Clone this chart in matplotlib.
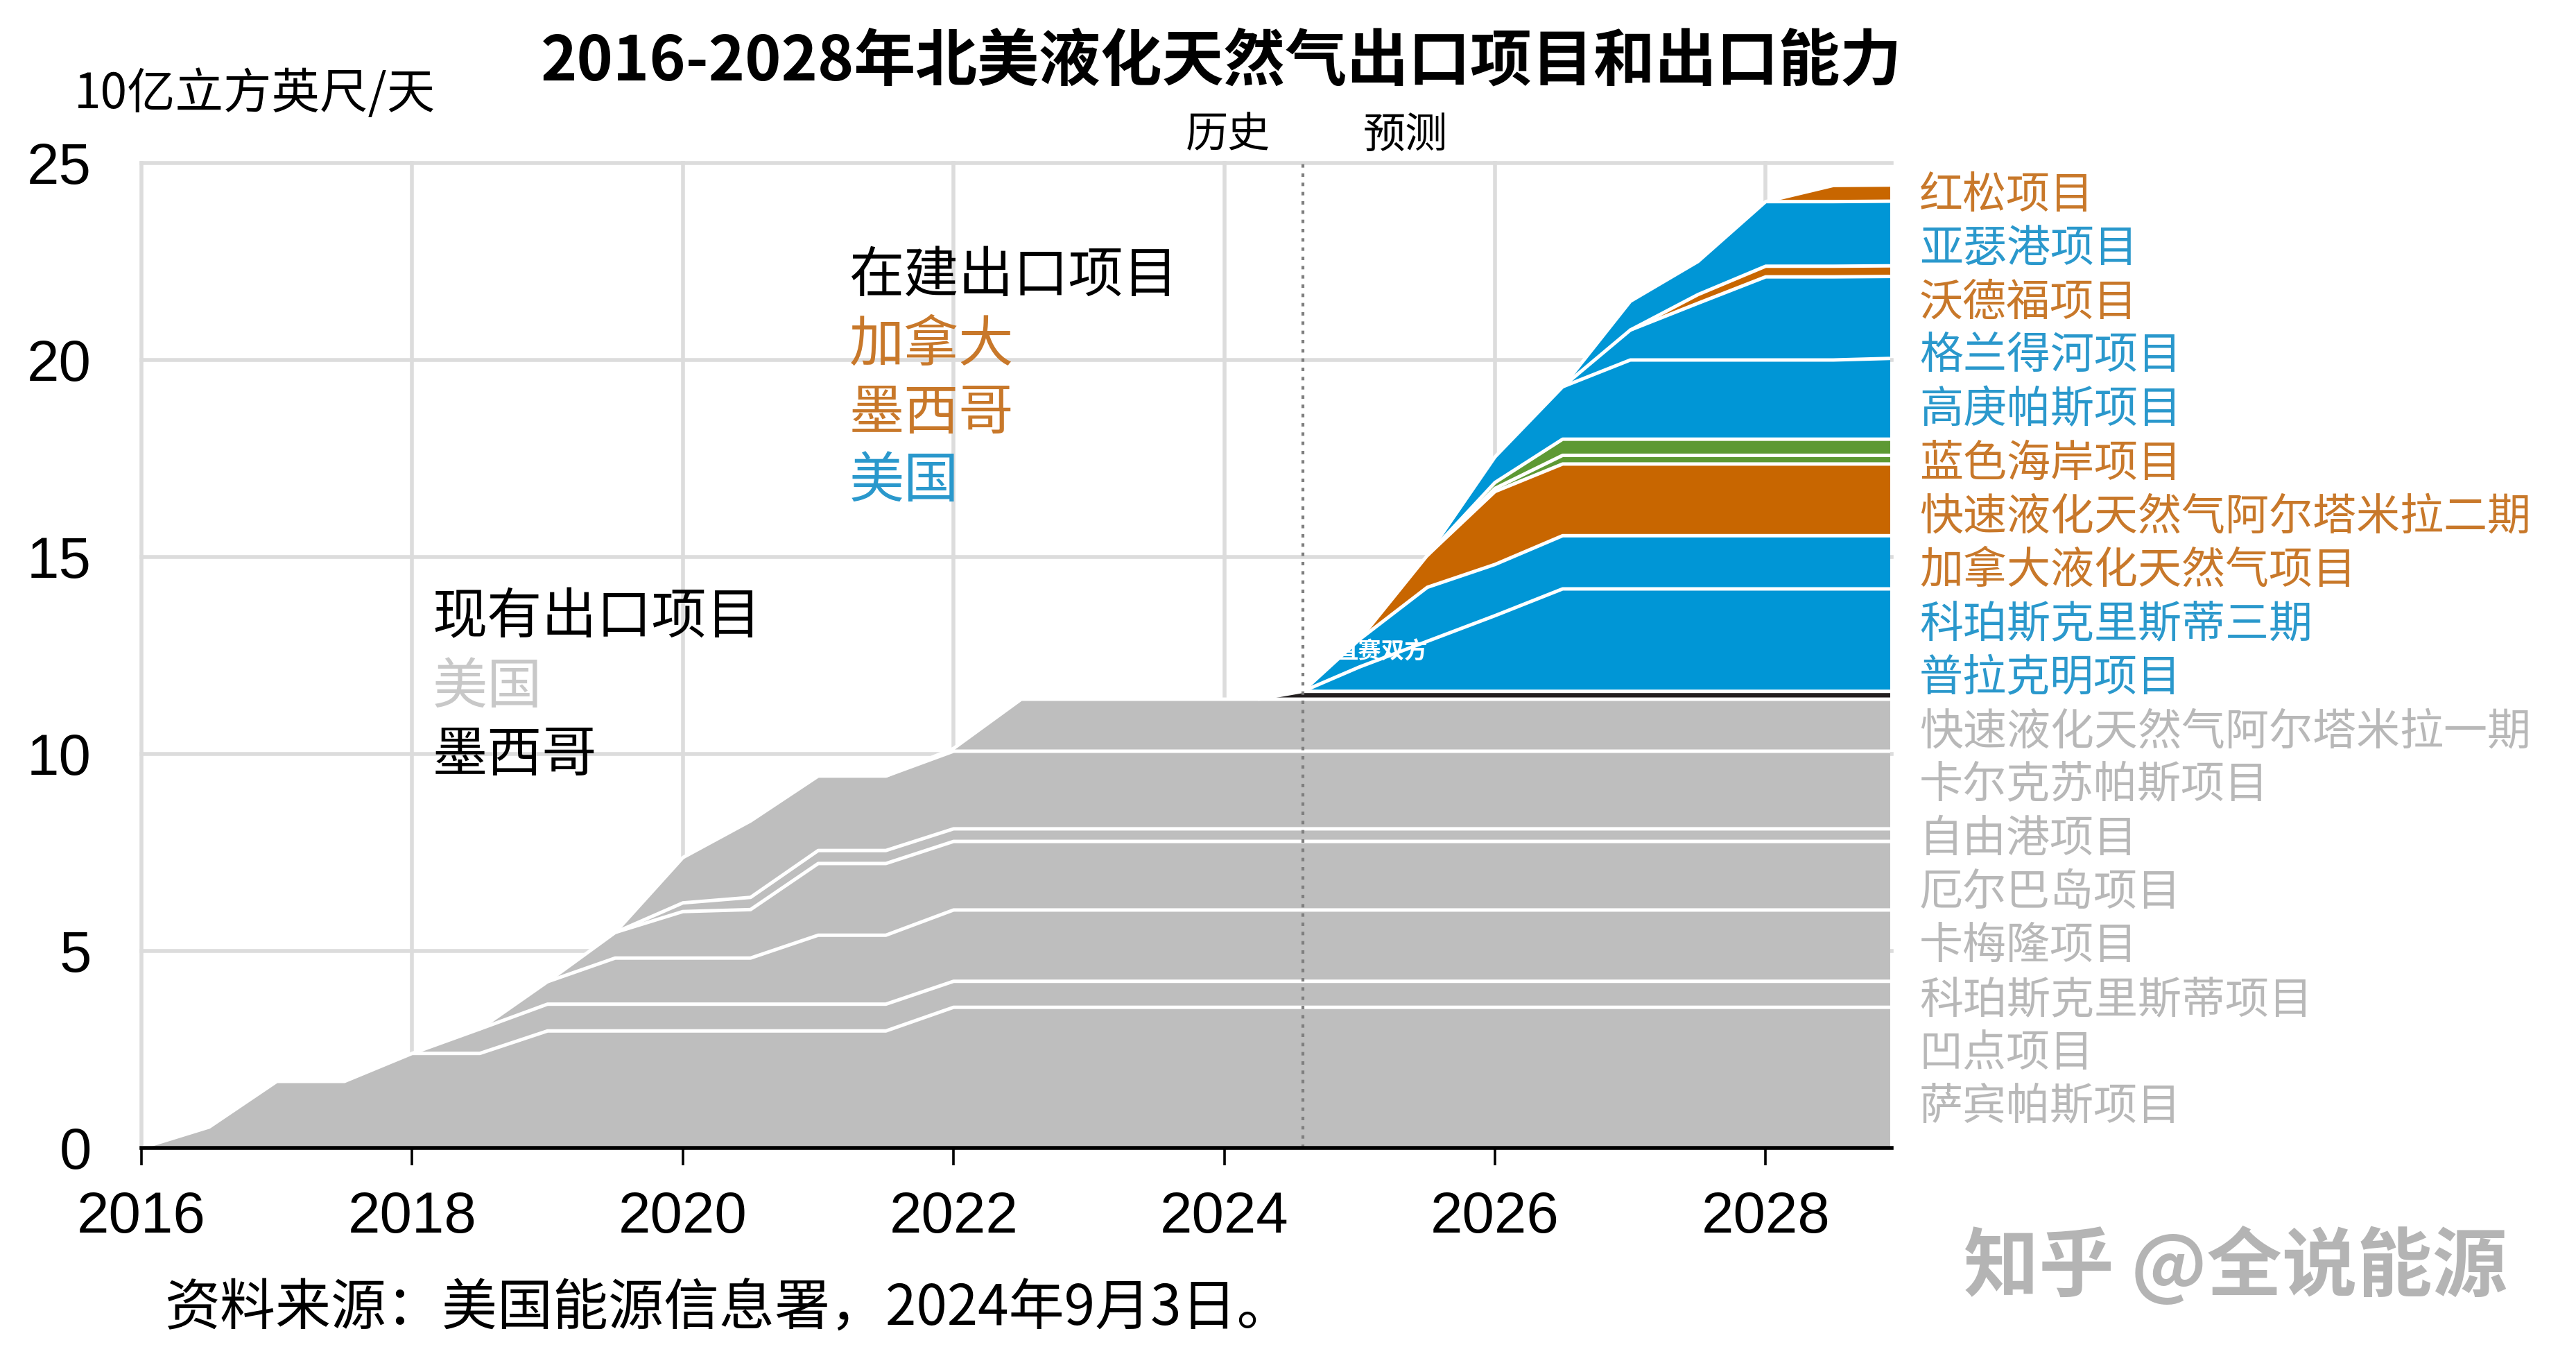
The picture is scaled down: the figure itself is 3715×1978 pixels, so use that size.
import numpy as np
import matplotlib
matplotlib.use("Agg")
import matplotlib.pyplot as plt

plt.rcParams["font.family"] = ["Noto Sans CJK SC", "DejaVu Sans"]

# ---- datos (10亿立方英尺/天) ----
years_hist = [2016.0, 2016.5, 2017.0, 2017.5, 2018.0, 2018.5, 2019.0, 2019.5, 2020.0,
              2020.5, 2021.0, 2021.5, 2022.0, 2022.5, 2024.25, 2024.58, 2028.92]
sabine_pass = [0, 0.53, 1.69, 1.69, 2.40, 2.40, 2.97, 2.97, 2.97, 2.97, 2.97, 2.97, 3.57, 3.57, 3.57, 3.57, 3.57]
cove_point = [0, 0, 0, 0, 0, 0.62, 0.68, 0.68, 0.68, 0.68, 0.68, 0.68, 0.66, 0.66, 0.66, 0.66, 0.66]
corpus_christi = [0, 0, 0, 0, 0, 0, 0.57, 1.17, 1.17, 1.17, 1.75, 1.75, 1.81, 1.81, 1.81, 1.81, 1.81]
cameron = [0, 0, 0, 0, 0, 0, 0, 0.65, 1.18, 1.23, 1.82, 1.82, 1.74, 1.74, 1.74, 1.74, 1.74]
elba_island = [0, 0, 0, 0, 0, 0, 0, 0, 0.22, 0.31, 0.33, 0.33, 0.32, 0.32, 0.32, 0.32, 0.32]
freeport = [0, 0, 0, 0, 0, 0, 0, 0, 1.15, 1.94, 1.89, 1.89, 1.97, 1.97, 1.97, 1.97, 1.97]
calcasieu_pass = [0, 0, 0, 0, 0, 0, 0, 0, 0, 0, 0, 0, 0.07, 1.32, 1.32, 1.32, 1.32]
altamira_1 = [0, 0, 0, 0, 0, 0, 0, 0, 0, 0, 0, 0, 0, 0, 0, 0.20, 0.20]

years_fcst = [2024.58, 2025.0, 2025.5, 2026.0, 2026.5, 2027.0, 2027.5, 2028.0, 2028.5, 2028.92]
plaquemines = [0, 0.62, 1.27, 1.92, 2.60, 2.60, 2.60, 2.60, 2.60, 2.60]
corpus_christi_3 = [0, 0.70, 1.37, 1.30, 1.35, 1.35, 1.35, 1.35, 1.35, 1.35]
lng_canada = [0, 0, 0.81, 1.85, 1.82, 1.82, 1.82, 1.82, 1.82, 1.82]
altamira_2 = [0, 0, 0, 0.08, 0.22, 0.22, 0.22, 0.22, 0.22, 0.22]
costa_azul = [0, 0, 0, 0.15, 0.41, 0.41, 0.41, 0.41, 0.41, 0.41]
golden_pass = [0, 0, 0, 0.65, 1.33, 2.01, 2.01, 2.01, 2.01, 2.05]
rio_grande = [0, 0, 0, 0, 0, 0.76, 1.44, 2.11, 2.11, 2.08]
woodfibre = [0, 0, 0, 0, 0, 0, 0.22, 0.27, 0.27, 0.27]
port_arthur = [0, 0, 0, 0, 0, 0.73, 0.84, 1.64, 1.64, 1.64]
red_pine = [0, 0, 0, 0, 0, 0, 0, 0, 0.41, 0.41]

BLUE, ORANGE, GREEN, GRAY, BLACK = "#0096d6", "#c86600", "#5d9934", "#bebebe", "#231f20"
L_BLUE, L_ORANGE, L_GRAY = "#2a98cc", "#c8782a", "#b8b8b8"

labels = ["红松项目", "亚瑟港项目", "沃德福项目", "格兰得河项目", "高庚帕斯项目", "蓝色海岸项目",
          "快速液化天然气阿尔塔米拉二期", "加拿大液化天然气项目", "科珀斯克里斯蒂三期", "普拉克明项目",
          "快速液化天然气阿尔塔米拉一期", "卡尔克苏帕斯项目", "自由港项目", "厄尔巴岛项目",
          "卡梅隆项目", "科珀斯克里斯蒂项目", "凹点项目", "萨宾帕斯项目"]
label_colors = [L_ORANGE, L_BLUE, L_ORANGE, L_BLUE, L_BLUE, L_ORANGE, L_ORANGE, L_ORANGE,
                L_BLUE, L_BLUE] + [L_GRAY] * 8

hist_layers = [(sabine_pass, GRAY), (cove_point, GRAY), (corpus_christi, GRAY), (cameron, GRAY),
               (elba_island, GRAY), (freeport, GRAY), (calcasieu_pass, GRAY), (altamira_1, BLACK)]
fcst_layers = [(plaquemines, BLUE), (corpus_christi_3, BLUE), (lng_canada, ORANGE),
               (altamira_2, GREEN), (costa_azul, GREEN), (golden_pass, BLUE), (rio_grande, BLUE),
               (woodfibre, ORANGE), (port_arthur, BLUE), (red_pine, ORANGE)]

fig = plt.figure(figsize=(18.58, 9.89), dpi=200)
ax = fig.add_axes([0.0549, 0.1633, 0.6792, 0.7179])
ax.set_xlim(2016, 2028.93)
ax.set_ylim(0, 25)

# rejilla manual (sin recortar en los bordes)
for yv in range(5, 30, 5):
    ax.axhline(yv, color="#dcdcdc", lw=2.0, zorder=0, clip_on=False)
for xv in range(2016, 2029, 2):
    ax.axvline(xv, color="#dcdcdc", lw=2.0, zorder=0, clip_on=False)


def stack(x, layers, base):
    x = np.asarray(x, float)
    lo = np.asarray(base, float) * np.ones_like(x)
    tops = []
    for vals, col in layers:
        t = np.asarray(vals, float)
        m = t > 0
        m[:-1] |= m[1:]
        hi = lo + t
        ax.fill_between(x, lo, hi, where=m, facecolor=col, lw=0, zorder=2)
        tops.append(np.where(m, hi, np.nan))
        lo = hi
    for tp in tops:
        ax.plot(x, tp, color="white", lw=1.8, zorder=3, solid_capstyle="butt")
    return lo


total_hist = stack(years_hist, hist_layers, 0.0)
base_fcst = np.interp(years_fcst, years_hist, total_hist)
stack(years_fcst, fcst_layers, base_fcst)

# línea histórico / proyección
ax.axvline(years_fcst[0], color="#7f7f7f", lw=1.5, ls=(0, (1.2, 2.0)), zorder=4)

for s in ("left", "right", "top"):
    ax.spines[s].set_visible(False)
ax.spines["bottom"].set_linewidth(2.0)
ax.spines["bottom"].set_zorder(5)
ax.set_xticks(range(2016, 2029, 2))
ax.set_yticks(range(0, 30, 5))
ax.tick_params(axis="x", length=9, width=1.3, direction="out", pad=13,
               labelsize=30, labelfontfamily="Liberation Sans")
ax.tick_params(axis="y", length=0, pad=26, labelsize=30, labelfontfamily="Liberation Sans")

# etiquetas de proyectos a la derecha
for i, (lab, col) in enumerate(zip(labels, label_colors)):
    ax.text(2029.135, 24.17 - i * 1.361, lab, color=col, fontsize=22.7,
            ha="left", va="center", clip_on=False)

# leyendas dentro del gráfico
for txt, col, yy in (("在建出口项目", "black", 22.13), ("加拿大", L_ORANGE, 20.37),
                     ("墨西哥", L_ORANGE, 18.63), ("美国", L_BLUE, 16.92)):
    ax.text(2021.23, yy, txt, color=col, fontsize=28.5, ha="left", va="center", zorder=6)
for txt, col, yy in (("现有出口项目", "black", 13.45), ("美国", "#c8c8c8", 11.69),
                     ("墨西哥", "black", 9.95)):
    ax.text(2018.15, yy, txt, color=col, fontsize=28.5, ha="left", va="center", zorder=6)

ax.text(2024.34, 25.7, "历史", fontsize=22, ha="right", va="center", clip_on=False)
ax.text(2025.34, 25.7, "预测", fontsize=22, ha="center", va="center", clip_on=False)
ax.text(2024.82, 12.59, "直赛双方", color="white", fontsize=12, fontweight="bold",
        ha="left", va="center", zorder=6)

fig.text(0.474, 0.9545, "2016-2028年北美液化天然气出口项目和出口能力",
         fontsize=32, fontweight="bold", ha="center", va="center")
fig.text(0.0288, 0.931, "10亿立方英尺/天", fontsize=25, ha="left", va="center")
fig.text(0.0638, 0.0465, "资料来源：美国能源信息署，2024年9月3日。", fontsize=28.8,
         ha="left", va="center")
fig.text(0.8677, 0.0768, "知乎 @全说能源", fontsize=39, fontweight="bold",
         color="#b4b4b4", ha="center", va="center")

fig.savefig("out.png", dpi=200)
